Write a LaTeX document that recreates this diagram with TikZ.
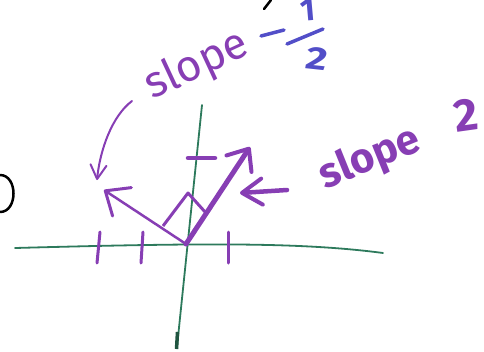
\documentclass[tikz,border=0pt]{standalone}
\usepackage{fontspec}
\setmainfont{Fira Sans}
\usetikzlibrary{arrows.meta}
\definecolor{pen}{RGB}{135,62,180}
\definecolor{penblue}{RGB}{82,78,200}
\definecolor{axisgreen}{RGB}{45,122,92}

\begin{document}
\begin{tikzpicture}[x=1pt, y=-1pt,
  axis/.style={draw=axisgreen, line width=1.8pt, line cap=round},
  tickmark/.style={draw=pen, line width=3pt, line cap=round},
  vecthick/.style={draw=pen, line width=5pt, line cap=round,
                   -{Straight Barb[length=18pt,width=30pt,line width=4pt,round]}},
  vecthin/.style={draw=pen, line width=2.5pt, line cap=round,
                  -{Straight Barb[length=20pt,width=34pt,line width=3pt,round]}},
  pointer/.style={draw=pen, line width=4.5pt, line cap=round,
                  -{Straight Barb[length=20pt,width=26pt,line width=4pt,round]}},
  curvearrow/.style={draw=pen, line width=2pt, line cap=round,
                     -{Straight Barb[length=14pt,width=16pt,line width=2pt,round]}},
  ink/.style={draw=black, line width=2.5pt, line cap=round},
  bluestroke/.style={draw=penblue, line width=3.5pt, line cap=round},
  thinlabel/.style={text=pen, inner sep=0pt, font=\fontsize{44}{44}\selectfont},
  boldlabel/.style={text=pen, inner sep=0pt, font=\fontsize{42}{42}\selectfont\bfseries},
  bluelabel/.style={text=penblue, inner sep=0pt, font=\fontsize{32}{32}\selectfont\bfseries}
]
\useasboundingbox (0,0) rectangle (484,351);

% Axes
\coordinate (xl) at (15,248);
\coordinate (xr) at (383,253);
\coordinate (yt) at (202,105);
\coordinate (yb) at (177,347);
\draw[axis] (xl) .. controls (200,243) and (300,242) .. (xr);
\draw[axis] (yt) -- (yb);
\draw[draw=axisgreen!70!black, line width=3.5pt] (177.5,332) -- (176.5,349);

% Ticks
\foreach \x/\xb in {100/97, 143/141, 228/228}
  \draw[tickmark] (\x,232) -- (\xb,263);
\draw[tickmark, line width=4.5pt] (188,158) -- (215,158);

% Vectors
\coordinate (O) at (186,244);
\coordinate (tipA) at (250,147);
\coordinate (tipB) at (104,190);
\draw[vecthick] (O) -- (tipA);
\draw[vecthin] (O) -- (tipB);
\draw[draw=pen, line width=3pt, line join=round] (163,226) -- (188,193) -- (206,213);

% Labels
\node[thinlabel, rotate=25] (slopeA) at (197,66) {slope};
\node[boldlabel, rotate=22] (slopeB) at (370,159) {slope};
\node[boldlabel, font=\fontsize{46}{46}\selectfont\bfseries, rotate=8] (two) at (466,115) {2};

% minus one half
\draw[bluestroke] (261,36) -- (284,30);
\draw[bluestroke] (287,44) -- (323,29);
\node[bluelabel, rotate=5] (one) at (308,10) {1};
\node[bluelabel, xscale=1.3, rotate=-8] (twoh) at (317,59) {2};

% Pointers
\coordinate (cs) at (132,101);
\coordinate (ce) at (97,180);
\draw[curvearrow] (cs) .. controls (112,116) and (100,150) .. (ce);
\coordinate (ps) at (287,190);
\coordinate (pe) at (240,193);
\draw[pointer] (ps) -- (pe);

% Cut-off marks at the edges
\draw[ink] (0,175) .. controls (18,175) and (18,212) .. (0,212);
\draw[ink] (271,0) -- (264,9);
\end{tikzpicture}
\end{document}
